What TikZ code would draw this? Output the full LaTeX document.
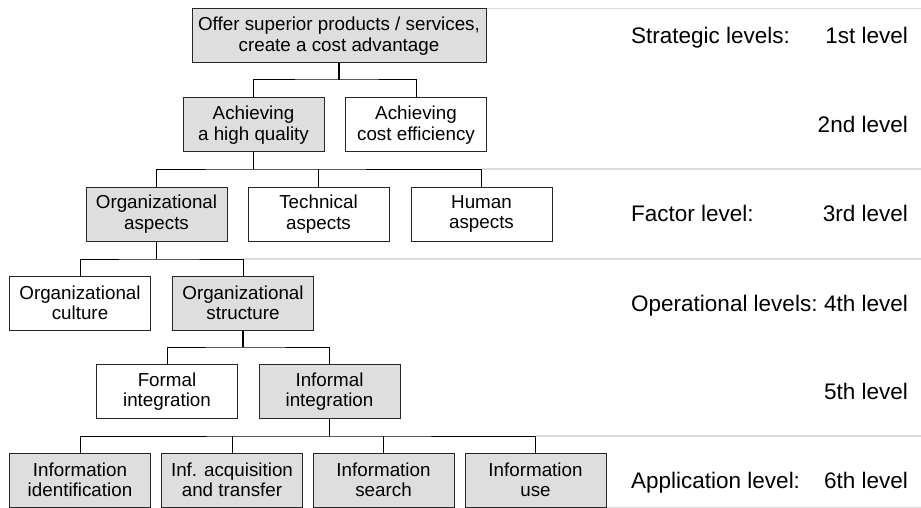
\documentclass[tikz,border=0pt]{standalone}
\usepackage{fontspec}
\setmainfont{Liberation Sans}
\usepackage{tikz}

\begin{document}
\begin{tikzpicture}[x=1pt,y=-1pt,
  box/.style={draw=black!85,line width=1pt,minimum width=141pt,minimum height=54pt,inner sep=0pt,align=center,font=\fontsize{18.8}{20.5}\selectfont},
  shaded/.style={box,fill=black!13},
  stem/.style={line width=1.8pt},
  twig/.style={line width=1pt},
  sep/.style={black!14,line width=1.5pt},
  lvl/.style={anchor=base west,inner sep=0pt,font=\fontsize{22.5}{24}\selectfont},
  lvlno/.style={lvl,anchor=base east}]
\useasboundingbox (0,0) rectangle (921,508);
\coordinate (r) at (921,0);

\node[shaded,minimum width=294pt] (goal) at (339,36) {Offer superior products / services,\\create a cost advantage};
\node[shaded] (quality) at (253.5,125) {Achieving\\a high quality};
\node[box] (cost) at (416,125) {Achieving\\cost efficiency};
\node[shaded] (orga) at (156.5,214) {Organizational\\aspects};
\node[box] (tech) at (318.5,214) {Technical\\aspects};
\node[box] (human) at (481.5,214) {Human\\aspects};
\node[box] (culture) at (80,303) {Organizational\\culture};
\node[shaded] (struct) at (243,303) {Organizational\\structure};
\node[box] (formal) at (167,391.5) {Formal\\integration};
\node[shaded] (informal) at (329.5,391.5) {Informal\\integration};
\node[shaded] (ident) at (80,480) {Information\\identification};
\node[shaded] (acq) at (232,480) {Inf. acquisition\\and transfer};
\node[shaded] (search) at (383.5,480) {Information\\search};
\node[shaded] (use) at (535.5,480) {Information\\use};

\coordinate (j1) at (339,80);
\coordinate (j2) at (253.5,169);
\coordinate (j3) at (156.5,259);
\coordinate (j4) at (243,347);
\coordinate (j5) at (329.5,436);

% level separators
\draw[sep] (goal.north east) -- (goal.north east -| r);
\draw[sep] (human.north |- j2) -- (j2 -| r);
\draw[sep] (struct.north |- j3) -- (j3 -| r);
\draw[sep] (use.north |- j5) -- (j5 -| r);
\draw[sep] (use.south east) -- (use.south east -| r);

\draw[stem] (goal.south) -- (j1);
\draw[twig] (quality.north) |- (j1) -| (cost.north);
\draw[stem] (quality.south) -- (j2);
\draw[twig] (orga.north) |- (j2) -| (human.north);
\draw[twig] (tech.north) -- (tech.north |- j2);
\draw[stem] (orga.south) -- (j3);
\draw[twig] (culture.north) |- (j3) -| (struct.north);
\draw[stem] (struct.south) -- (j4);
\draw[twig] (formal.north) |- (j4) -| (informal.north);
\draw[stem] (informal.south) -- (j5);
\draw[twig] (ident.north) |- (j5) -| (use.north);
\foreach \c in {acq,search}
  \draw[twig] (\c.north) -- (\c.north |- j5);

\node[lvl] (strat) at (631,43.5) {Strategic levels:};
\node[lvl] (factor) at (631,221) {Factor level:};
\node[lvl] (oper) at (631,311) {Operational levels:};
\node[lvl] (appl) at (631,488) {Application level:};
\node[lvlno] (l1) at (908,43.5) {1st level};
\node[lvlno] (l2) at (908,132) {2nd level};
\node[lvlno] (l3) at (908,221) {3rd level};
\node[lvlno] (l4) at (908,311) {4th level};
\node[lvlno] (l5) at (908,399.5) {5th level};
\node[lvlno] (l6) at (908,488) {6th level};
\end{tikzpicture}
\end{document}
